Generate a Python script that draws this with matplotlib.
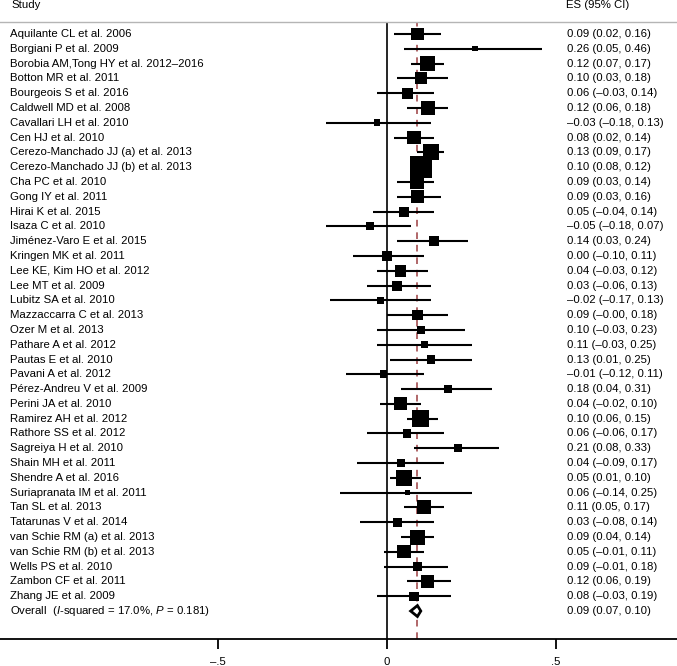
import matplotlib
matplotlib.use('Agg')
import matplotlib.pyplot as plt
from matplotlib.patches import Polygon

plt.rcParams['font.family'] = ['Liberation Sans', 'DejaVu Sans']
plt.rcParams['mathtext.fontset'] = 'custom'
plt.rcParams['mathtext.rm'] = 'Liberation Sans'
plt.rcParams['mathtext.it'] = 'Liberation Sans:italic'

studies = [
    'Aquilante CL et al. 2006', 'Borgiani P et al. 2009',
    'Borobia AM,Tong HY et al. 2012\u20132016', 'Botton MR et al. 2011',
    'Bourgeois S et al. 2016', 'Caldwell MD et al. 2008',
    'Cavallari LH et al. 2010', 'Cen HJ et al. 2010',
    'Cerezo-Manchado JJ (a) et al. 2013', 'Cerezo-Manchado JJ (b) et al. 2013',
    'Cha PC et al. 2010', 'Gong IY et al. 2011', 'Hirai K et al. 2015',
    'Isaza C et al. 2010', 'Jiménez-Varo E et al. 2015', 'Kringen MK et al. 2011',
    'Lee KE, Kim HO et al. 2012', 'Lee MT et al. 2009', 'Lubitz SA et al. 2010',
    'Mazzaccarra C et al. 2013', 'Ozer M et al. 2013', 'Pathare A et al. 2012',
    'Pautas E et al. 2010', 'Pavani A et al. 2012', 'Pérez-Andreu V et al. 2009',
    'Perini JA et al. 2010', 'Ramirez AH et al. 2012', 'Rathore SS et al. 2012',
    'Sagreiya H et al. 2010', 'Shain MH et al. 2011', 'Shendre A et al. 2016',
    'Suriapranata IM et al. 2011', 'Tan SL et al. 2013', 'Tatarunas V et al. 2014',
    'van Schie RM (a) et al. 2013', 'van Schie RM (b) et al. 2013',
    'Wells PS et al. 2010', 'Zambon CF et al. 2011', 'Zhang JE et al. 2009',
]
es = [0.09, 0.26, 0.12, 0.10, 0.06, 0.12, -0.03, 0.08, 0.13, 0.10,
      0.09, 0.09, 0.05, -0.05, 0.14, 0.00, 0.04, 0.03, -0.02, 0.09,
      0.10, 0.11, 0.13, -0.01, 0.18, 0.04, 0.10, 0.06, 0.21, 0.04,
      0.05, 0.06, 0.11, 0.03, 0.09, 0.05, 0.09, 0.12, 0.08]
lo = [0.02, 0.05, 0.07, 0.03, -0.03, 0.06, -0.18, 0.02, 0.09, 0.08,
      0.03, 0.03, -0.04, -0.18, 0.03, -0.10, -0.03, -0.06, -0.17, -0.0,
      -0.03, -0.03, 0.01, -0.12, 0.04, -0.02, 0.06, -0.06, 0.08, -0.09,
      0.01, -0.14, 0.05, -0.08, 0.04, -0.01, -0.01, 0.06, -0.03]
hi = [0.16, 0.46, 0.17, 0.18, 0.14, 0.18, 0.13, 0.14, 0.17, 0.12,
      0.14, 0.16, 0.14, 0.07, 0.24, 0.11, 0.12, 0.13, 0.13, 0.18,
      0.23, 0.25, 0.25, 0.11, 0.31, 0.10, 0.15, 0.17, 0.33, 0.17,
      0.10, 0.25, 0.17, 0.14, 0.14, 0.11, 0.18, 0.19, 0.19]
# study weights (%)
weights = [2.9, 0.55, 4.35, 2.9, 2.2, 3.8, 0.87, 3.4, 4.95, 9.4,
           3.8, 3.1, 1.95, 1.25, 1.8, 1.65, 2.65, 1.95, 1.0, 2.05,
           1.15, 1.0, 1.25, 1.15, 1.25, 3.3, 5.4, 1.35, 1.35, 1.25,
           4.95, 0.55, 3.8, 1.55, 4.35, 3.4, 1.8, 2.9, 1.65]
overall_es, overall_lo, overall_hi = 0.09, 0.07, 0.10
overall_label = r'Overall  ($\it{I}$-squared = 17.0%, $\it{P}$ = 0.181)'
xticks = [-0.5, 0, 0.5]
xticklabels = ['\u2013.5', '0', '.5']


def fmt(v):
    return f'{v:.2f}'.replace('-', '\u2013')


fig = plt.figure(figsize=(6.77, 6.66), dpi=100)
ax = fig.add_axes([0, 1 - 639 / 666, 1, (639 - 22) / 666])
n = len(studies)
ax.set_xlim(-1.145, 0.858)
ax.set_ylim(n + 1.89, -0.81)

dash_col = '#a34d4f'
ax.axvline(0, color='black', lw=1.2, zorder=1)
ax.axvline(overall_es, color=dash_col, lw=1.2, ls=(0, (4, 3.5)), zorder=1)

rows = list(range(n))
ax.hlines(rows, lo, hi, color='black', lw=1.5, zorder=2)
sides = [(w * 51.67) ** 0.5 * 0.72 for w in weights]
ax.scatter(es, rows, s=[s ** 2 for s in sides], marker='s', color='black',
           linewidths=0, zorder=3)

yo = n
dh = 0.37
ax.add_patch(Polygon([(overall_lo, yo), (overall_es, yo - dh), (overall_hi, yo),
                      (overall_es, yo + dh)], closed=True, facecolor='white',
                     edgecolor='black', lw=2, zorder=4))

fs = 8.2
for i, name in enumerate(studies):
    ax.text(-1.115, i, name, fontsize=fs, va='center', ha='left')
    ax.text(0.532, i, f'{fmt(es[i])} ({fmt(lo[i])}, {fmt(hi[i])})',
            fontsize=fs, va='center', ha='left')
ax.text(-1.115, yo, overall_label, fontsize=fs, va='center', ha='left')
ax.text(0.532, yo, f'{fmt(overall_es)} ({fmt(overall_lo)}, {fmt(overall_hi)})',
        fontsize=fs, va='center', ha='left')

fig.text(11 / 677, 1 - 5 / 666, 'Study', fontsize=fs, va='center', ha='left')
fig.text(566 / 677, 1 - 5 / 666, 'ES (95% CI)', fontsize=fs, va='center', ha='left')

for side in ['left', 'right']:
    ax.spines[side].set_visible(False)
ax.spines['top'].set_color('#b5b5b5')
ax.spines['top'].set_linewidth(1.0)
ax.spines['bottom'].set_linewidth(1.3)
ax.set_yticks([])
ax.set_xticks(xticks)
ax.set_xticklabels(xticklabels, fontsize=fs)
ax.tick_params(axis='x', length=7, width=1.3, pad=6)

fig.savefig('out.png', dpi=100)
